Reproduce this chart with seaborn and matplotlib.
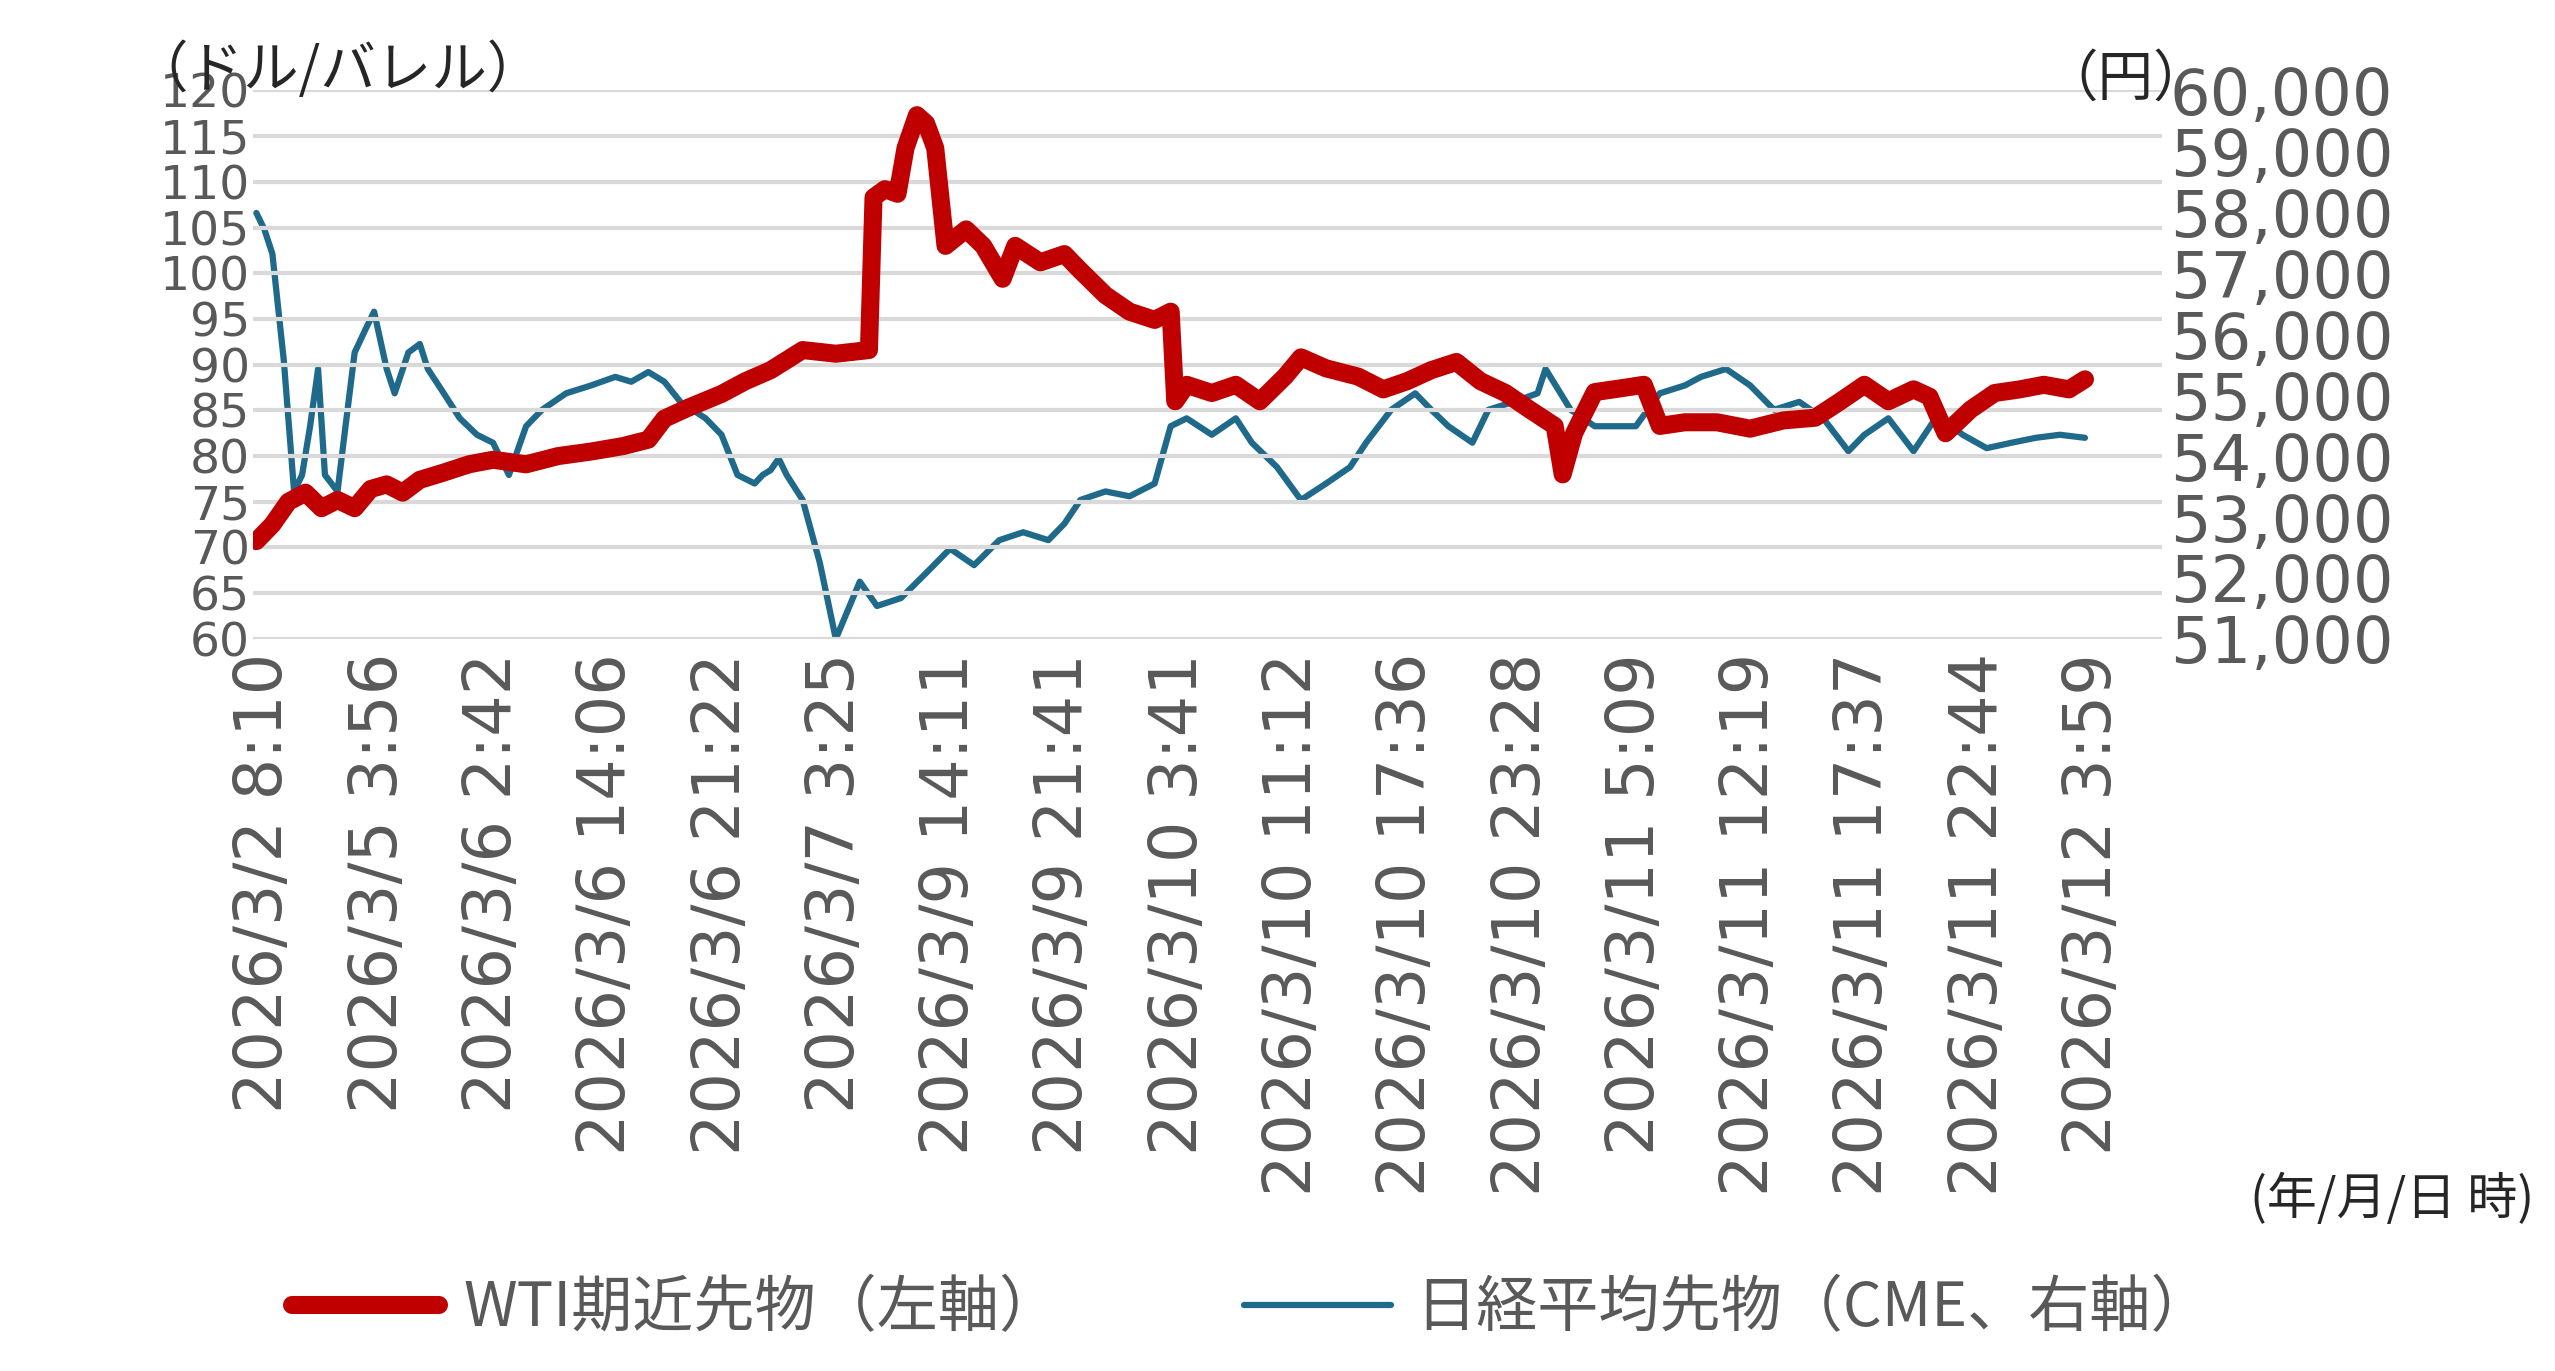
import numpy as np
import pandas as pd
import matplotlib
matplotlib.use("Agg")
import matplotlib.pyplot as plt
import seaborn as sns

# ------------------------------------
# Data (read from the picture; t = observation index, 100 obs per tick label)
# ------------------------------------
tick_labels = ["2026/3/2 8:10", "2026/3/5 3:56", "2026/3/6 2:42", "2026/3/6 14:06",
               "2026/3/6 21:22", "2026/3/7 3:25", "2026/3/9 14:11", "2026/3/9 21:41",
               "2026/3/10 3:41", "2026/3/10 11:12", "2026/3/10 17:36", "2026/3/10 23:28",
               "2026/3/11 5:09", "2026/3/11 12:19", "2026/3/11 17:37", "2026/3/11 22:44",
               "2026/3/12 3:59"]

wti_t = [-7, 7, 21, 36, 50, 64, 79, 93, 107, 121, 136, 157, 179, 200, 229, 257, 286, 314,
         336, 350, 371, 400, 421, 443, 471, 500, 529, 533, 543, 554, 561, 571, 579, 587,
         596, 614, 629, 646, 657, 679, 700, 714, 736, 757, 779, 793, 797, 807, 829, 850,
         871, 893, 907, 929, 957, 979, 1000, 1021, 1043, 1064, 1086, 1107, 1129, 1136,
         1146, 1164, 1186, 1207, 1221, 1243, 1271, 1300, 1329, 1357, 1379, 1400, 1421,
         1443, 1457, 1471, 1493, 1514, 1536, 1557, 1579, 1593]
wti = [70.7, 72.5, 75.0, 76.0, 74.3, 75.2, 74.3, 76.4, 76.9, 76.0, 77.4, 78.2, 79.1, 79.6,
       79.1, 80.0, 80.5, 81.1, 81.8, 84.1, 85.3, 86.8, 88.2, 89.4, 91.6, 91.2, 91.6, 108.3,
       109.2, 108.7, 113.7, 117.3, 116.4, 113.7, 103.0, 104.8, 103.0, 99.4, 103.0, 101.2,
       102.1, 100.3, 97.6, 95.8, 94.9, 95.8, 86.0, 87.8, 86.9, 87.8, 86.0, 88.7, 90.8,
       89.6, 88.7, 87.3, 88.2, 89.4, 90.3, 88.2, 86.9, 85.1, 83.3, 78.0, 82.5, 87.0,
       87.4, 87.8, 83.3, 83.7, 83.7, 83.0, 83.9, 84.2, 86.0, 87.8, 86.0, 87.3, 86.5,
       82.5, 85.1, 86.9, 87.3, 87.8, 87.3, 88.4]

nk_t = [-7, 0, 7, 17, 26, 33, 40, 47, 53, 64, 71, 79, 89, 96, 107, 114, 126, 136, 143,
        157, 171, 186, 200, 214, 229, 243, 264, 286, 307, 321, 336, 350, 364, 386, 400,
        414, 429, 436, 443, 450, 457, 471, 486, 500, 521, 536, 557, 579, 600, 621, 643,
        664, 686, 700, 714, 736, 757, 779, 793, 807, 829, 850, 864, 886, 907, 929, 950,
        964, 986, 1007, 1021, 1036, 1057, 1071, 1093, 1114, 1121, 1143, 1164, 1186,
        1200, 1221, 1243, 1257, 1279, 1300, 1321, 1343, 1364, 1386, 1400, 1421, 1443,
        1464, 1486, 1507, 1529, 1550, 1571, 1593]
nikkei = [57990, 57720, 57320, 55570, 53420, 53690, 54490, 55430, 53690, 53420, 54490,
          55700, 56100, 56370, 55430, 55030, 55700, 55840, 55430, 55030, 54620, 54350,
          54220, 53690, 54490, 54760, 55030, 55160, 55300, 55220, 55380, 55220, 54890,
          54620, 54350, 53690, 53550, 53690, 53770, 53960, 53690, 53280, 52250, 51000,
          51940, 51540, 51670, 52080, 52480, 52210, 52620, 52750, 52620, 52890, 53280,
          53420, 53340, 53550, 54490, 54620, 54350, 54620, 54220, 53820, 53280, 53550,
          53820, 54220, 54760, 55030, 54760, 54490, 54220, 54760, 54890, 55030, 55430,
          54760, 54490, 54490, 54490, 55030, 55160, 55300, 55430, 55160, 54760, 54890,
          54620, 54080, 54350, 54620, 54080, 54670, 54350, 54130, 54220, 54300, 54350,
          54300]

RED = "#c00000"
BLUE = "#1f6a8a"
GRAY = "#595959"

sns.set_style("white")
plt.rcParams["font.family"] = ["DejaVu Sans", "Noto Sans CJK JP"]

fig = plt.figure(figsize=(25.55, 13.71), dpi=100)
ax = fig.add_axes([0.099, 0.534, 0.747, 0.40])
ax2 = ax.twinx()

df_wti = pd.DataFrame({"t": wti_t, "v": wti})
df_nk = pd.DataFrame({"t": nk_t, "v": nikkei})

sns.lineplot(data=df_wti, x="t", y="v", ax=ax, color=RED, lw=13, zorder=3, legend=False)
sns.lineplot(data=df_nk, x="t", y="v", ax=ax2, color=BLUE, lw=4.5, legend=False)
ax.set_zorder(ax2.get_zorder() + 1)
ax.patch.set_visible(False)

ax.set_ylim(60, 120)
ax.set_yticks(np.arange(60, 121, 5))
ax2.set_ylim(51000, 60000)
ax2.set_yticks(np.arange(51000, 60001, 1000))
ax2.set_yticklabels([f"{v:,}" for v in range(51000, 60001, 1000)])
ax.set_xlim(-10, 1660)
ax.set_xticks(np.arange(len(tick_labels)) * 100)
ax.set_xticklabels(tick_labels, rotation=90)

ax.grid(axis="y", color="#d9d9d9", lw=3)
ax2.grid(False)
for a in (ax, ax2):
    for s in a.spines.values():
        s.set_visible(False)
    a.set_xlabel("")
    a.set_ylabel("")
ax.tick_params(axis="y", labelsize=34, colors=GRAY, length=0, pad=2)
ax.tick_params(axis="x", labelsize=47, colors=GRAY, length=0, pad=10)
ax2.tick_params(axis="y", labelsize=46, colors=GRAY, length=0, pad=6)

fig.text(0.052, 0.948, "（ドル/バレル）", fontsize=40, family=["Noto Sans CJK JP"], va="center")
fig.text(0.832, 0.942, "（円）", fontsize=40, family=["Noto Sans CJK JP"], va="center", ha="center")
fig.text(0.992, 0.125, "(年/月/日 時)", fontsize=36, family=["Noto Sans CJK JP"], ha="right", va="center")

handles = [plt.Line2D([], [], color=RED, lw=13), plt.Line2D([], [], color=BLUE, lw=4.5)]
fig.legend(handles, ["WTI期近先物（左軸）", "日経平均先物（CME、右軸）"],
           loc="center", bbox_to_anchor=(0.49, 0.045), ncol=2, frameon=False,
           prop={"family": ["Noto Sans CJK JP"], "size": 44}, labelcolor=GRAY,
           handlelength=2.4, handletextpad=0.4, columnspacing=3)

plt.savefig("out.png", dpi=100)
plt.close()
